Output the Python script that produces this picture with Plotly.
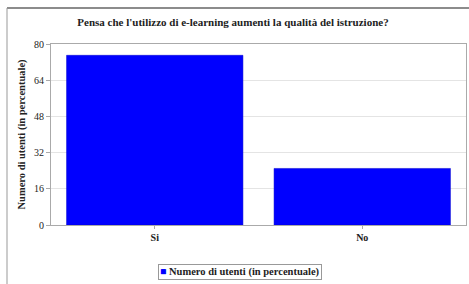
import plotly.graph_objects as go

categories = ["Si", "No"]
values = [75, 25]
series_name = "Numero di utenti (in percentuale)"
title_text = "Pensa che l'utilizzo di e-learning aumenti la qualità del istruzione?"
y_ticks = [0, 16, 32, 48, 64, 80]

W, H = 469, 284
L, R, T, B = 51, 3, 44, 59
pw = W - L - R
ph = H - T - B

def px_x(x):
    return (x - L) / pw

def px_y(y):
    return (H - B - y) / ph

font_family = "Liberation Serif, DejaVu Serif, serif"
bar_color = "#0000FF"

fig = go.Figure()
fig.add_trace(go.Bar(
    x=categories, y=values, name=series_name,
    marker=dict(color=bar_color, line=dict(width=0.5, color="#0000CC")),
    showlegend=False,
))

fig.update_layout(
    width=W, height=H,
    margin=dict(l=L, r=R, t=T, b=B),
    paper_bgcolor="white", plot_bgcolor="white",
    bargap=0.15,
    title=dict(text="<b>" + title_text + "</b>", x=233 / W, xref="container", xanchor="center",
               y=1 - 22 / H, yanchor="middle",
               font=dict(family=font_family, size=11, color="#222")),
    font=dict(family=font_family, color="#222"),
    xaxis=dict(showline=True, linecolor="#aaa", linewidth=1, mirror=True,
               ticks="outside", ticklen=3, tickcolor="#aaa",
               tickfont=dict(family=font_family, size=10, color="#222"),
               tickprefix="<b>", ticksuffix="</b>", showgrid=False),
    yaxis=dict(range=[0, 80], tickvals=y_ticks, showline=True, linecolor="#aaa", linewidth=1,
               mirror=True, ticks="outside", ticklen=4, tickcolor="#aaa",
               tickfont=dict(family=font_family, size=10, color="#222"),
               tickprefix="<b>", ticksuffix="</b>",
               gridcolor="#e4e4e4", gridwidth=1, zeroline=False,
               title=dict(text="<b>" + series_name + "</b>", standoff=6,
                          font=dict(family=font_family, size=10.5, color="#222"))),
    annotations=[
        dict(xref="paper", yref="paper", x=px_x(240), y=px_y(272), xanchor="center", yanchor="middle",
             text="<span style='color:" + bar_color + "'>■</span> <b>" + series_name + "</b>",
             showarrow=False, bordercolor="#999", borderwidth=1, borderpad=1, bgcolor="white",
             font=dict(family=font_family, size=10.5, color="#222")),
    ],
    shapes=[
        dict(type="line", xref="paper", yref="paper", x0=px_x(7), x1=px_x(469), y0=px_y(8), y1=px_y(8),
             line=dict(color="#666", width=1.5)),
        dict(type="line", xref="paper", yref="paper", x0=px_x(7), x1=px_x(7), y0=px_y(8), y1=px_y(284),
             line=dict(color="#999", width=1)),
    ],
)

fig.write_html("out.html",
               config={"displayModeBar": False},
               post_script="document.body.style.margin='0';document.body.style.overflow='hidden';"
                           "document.documentElement.style.overflow='hidden';")
